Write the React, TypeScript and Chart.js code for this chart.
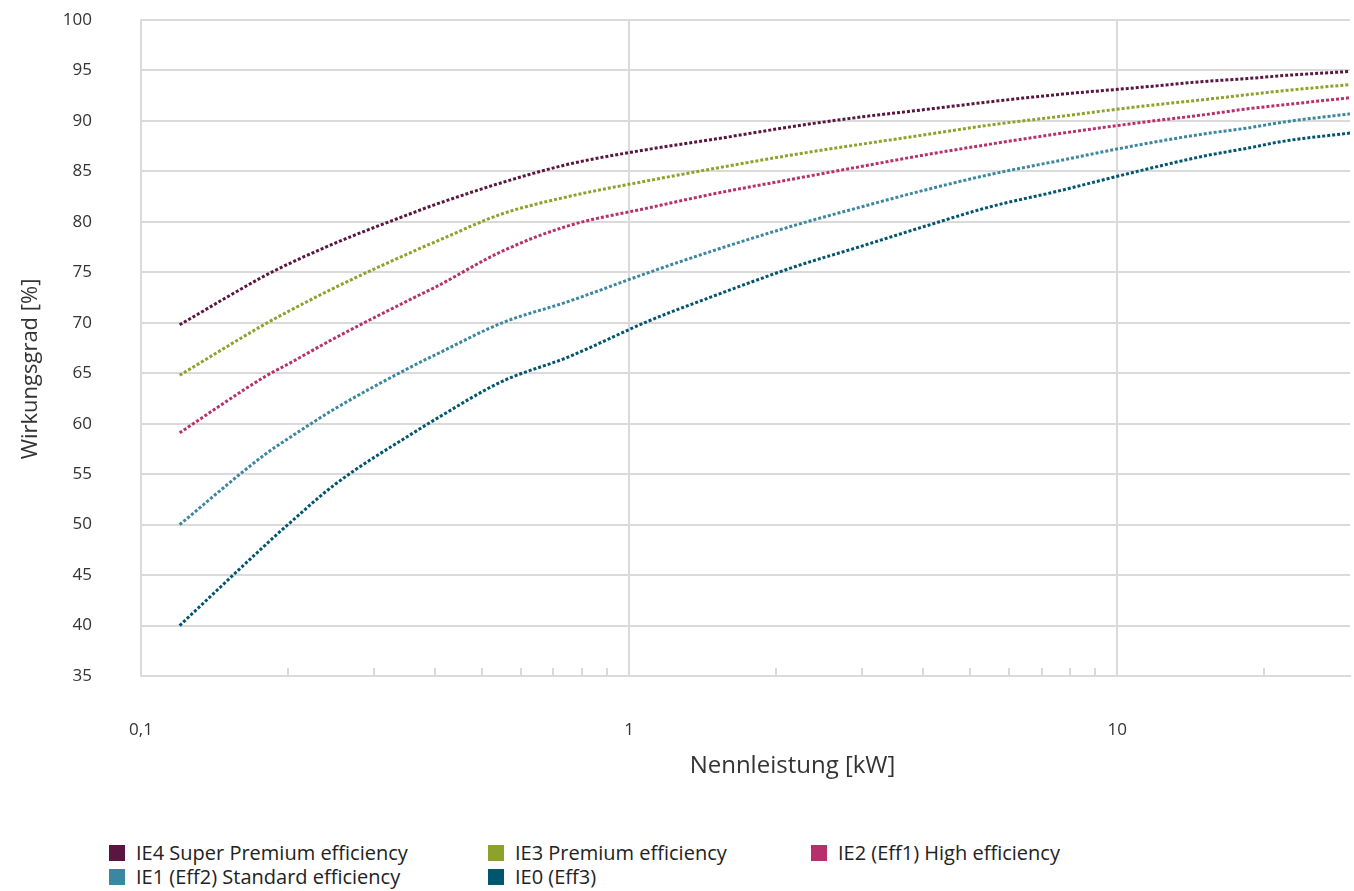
import React, { useEffect, useRef } from "react";
import { Chart, registerables } from "chart.js";

Chart.register(...registerables);

const powerKW = [0.12, 0.18, 0.2, 0.25, 0.37, 0.4, 0.55, 0.75, 1.1, 1.5, 2.2, 3, 4, 5.5, 7.5, 11, 15, 18.5, 22, 30];
const ie4 = [69.8, 74.7, 75.8, 77.9, 81.1, 81.7, 83.9, 85.7, 87.2, 88.2, 89.5, 90.4, 91.1, 91.9, 92.6, 93.3, 93.9, 94.2, 94.5, 94.9];
const ie3 = [64.8, 69.9, 71.1, 73.5, 77.3, 78.0, 80.8, 82.5, 84.1, 85.3, 86.7, 87.7, 88.6, 89.6, 90.4, 91.4, 92.1, 92.6, 93.0, 93.6];
const ie2 = [59.1, 64.7, 65.9, 68.5, 72.7, 73.5, 77.1, 79.6, 81.4, 82.8, 84.3, 85.5, 86.6, 87.7, 88.7, 89.8, 90.6, 91.2, 91.6, 92.3];
const ie1 = [50.0, 57.0, 58.5, 61.5, 66.0, 66.8, 70.0, 72.1, 75.0, 77.2, 79.7, 81.5, 83.1, 84.7, 86.0, 87.6, 88.7, 89.3, 89.9, 90.7];
const ie0 = [40.0, 48.0, 50.0, 54.0, 59.4, 60.4, 64.2, 66.6, 70.2, 72.7, 75.6, 77.6, 79.5, 81.5, 83.0, 85.0, 86.5, 87.3, 88.0, 88.8];

const seriesNames = [
  "IE4 Super Premium efficiency",
  "IE3 Premium efficiency",
  "IE2 (Eff1) High efficiency",
  "IE1 (Eff2) Standard efficiency",
  "IE0 (Eff3)",
];
const seriesColors = ["#5a1640", "#8ca22a", "#b8306b", "#3b87a0", "#00566f"];
const seriesValues = [ie4, ie3, ie2, ie1, ie0];

const xLabelValues = [0.1, 1, 10];
const xLabelTexts = ["0,1", "1", "10"];
const minorTickValues = [0.2, 0.3, 0.4, 0.5, 0.6, 0.7, 0.8, 0.9, 2, 3, 4, 5, 6, 7, 8, 9, 20];
const xTitle = "Nennleistung [kW]";
const yTitle = "Wirkungsgrad [%]";

const FONT = "'Open Sans', 'Noto Sans', sans-serif";
const GRID = "#dadada";
const CLEAR = "rgba(0,0,0,0)";

const extrasPlugin = {
  id: "extras",
  afterDatasetsDraw(chart: any) {
    const { ctx, chartArea, scales } = chart;
    const xs = scales.x;
    ctx.save();
    ctx.strokeStyle = GRID;
    ctx.lineWidth = 2;
    ctx.beginPath();
    for (const v of minorTickValues) {
      const px = Math.round(xs.getPixelForValue(v));
      ctx.moveTo(px, chartArea.bottom);
      ctx.lineTo(px, chartArea.bottom - 8);
    }
    ctx.stroke();
    ctx.fillStyle = "#333";
    ctx.textAlign = "center";
    ctx.textBaseline = "middle";
    ctx.font = `24px ${FONT}`;
    ctx.fillText(xTitle, (chartArea.left + chartArea.right) / 2 + 47, chartArea.bottom + 90);
    ctx.font = `22px ${FONT}`;
    ctx.translate(31, (chartArea.top + chartArea.bottom) / 2 + 21);
    ctx.rotate(-Math.PI / 2);
    ctx.fillText(yTitle, 0, 0);
    ctx.restore();
  },
};

export default function App() {
  const canvasRef = useRef<HTMLCanvasElement | null>(null);

  useEffect(() => {
    if (!canvasRef.current) return;
    const chart = new Chart(canvasRef.current, {
      type: "line",
      data: {
        datasets: seriesNames.map((name, i) => ({
          label: name,
          data: powerKW.map((x, j) => ({ x, y: seriesValues[i][j] })),
          borderColor: seriesColors[i],
          backgroundColor: seriesColors[i],
          borderWidth: 3,
          borderDash: [3, 2],
          pointRadius: 0,
          cubicInterpolationMode: "monotone" as const,
          fill: false,
        })),
      },
      options: {
        animation: false,
        responsive: false,
        maintainAspectRatio: false,
        layout: { padding: { top: 20, right: 4, bottom: 14, left: 0 } },
        plugins: {
          legend: { display: false },
          tooltip: { enabled: false },
        },
        scales: {
          x: {
            type: "logarithmic",
            min: 0.1,
            max: 30,
            afterFit: (s: any) => {
              s.height = 110;
            },
            afterBuildTicks: (s: any) => {
              s.ticks = xLabelValues.map((v) => ({ value: v }));
            },
            ticks: {
              autoSkip: false,
              maxRotation: 0,
              padding: 0,
              color: "#333",
              font: { family: FONT, size: 17 },
              callback: (v: any) => {
                const idx = xLabelValues.findIndex((t) => Math.abs(t - Number(v)) < 1e-9);
                return idx >= 0 ? xLabelTexts[idx] : "";
              },
            },
            grid: {
              drawTicks: true,
              tickLength: 44,
              tickColor: CLEAR,
              color: (c: any) => (c.tick && Math.abs(c.tick.value - 0.1) < 1e-9 ? CLEAR : GRID),
              lineWidth: 2,
            },
            border: { display: true, color: GRID, width: 2 },
            title: { display: false },
          },
          y: {
            min: 35,
            max: 100,
            afterFit: (s: any) => {
              s.width = 141;
            },
            ticks: {
              stepSize: 5,
              padding: 0,
              color: "#333",
              font: { family: FONT, size: 17 },
            },
            grid: {
              drawTicks: true,
              tickLength: 49,
              tickColor: CLEAR,
              color: GRID,
              lineWidth: 2,
            },
            border: { display: true, color: GRID, width: 2 },
            title: { display: false },
          },
        },
      },
      plugins: [extrasPlugin],
    });
    return () => chart.destroy();
  }, []);

  const legendPos = [
    { left: 109, top: 843 },
    { left: 488, top: 843 },
    { left: 811, top: 843 },
    { left: 109, top: 867 },
    { left: 488, top: 867 },
  ];

  return (
    <div style={{ position: "absolute", left: 0, top: 0, width: 1354, height: 891, background: "#fff", fontFamily: FONT }}>
      <canvas ref={canvasRef} width={1354} height={800} style={{ display: "block", width: 1354, height: 800 }} />
      {seriesNames.map((name, i) => (
        <div
          key={name}
          style={{
            position: "absolute",
            left: legendPos[i].left,
            top: legendPos[i].top,
            display: "flex",
            alignItems: "center",
            fontSize: 20,
            color: "#222",
            whiteSpace: "nowrap",
            lineHeight: "20px",
          }}
        >
          <span style={{ display: "inline-block", width: 16, height: 16, background: seriesColors[i], marginRight: 11 }} />
          {name}
        </div>
      ))}
    </div>
  );
}
